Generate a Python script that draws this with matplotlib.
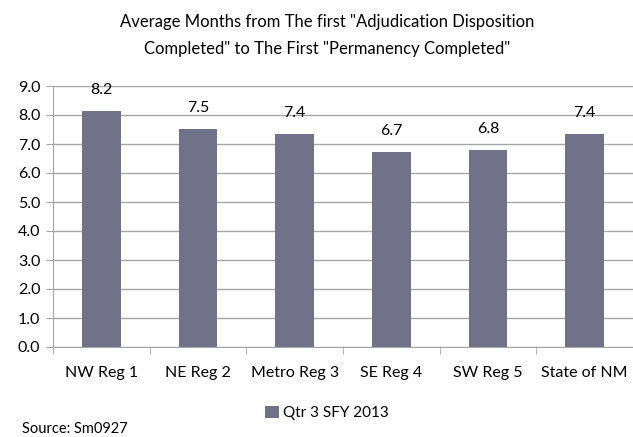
import numpy as np
import matplotlib.pyplot as plt

plt.rcParams['font.family'] = ['Lato', 'DejaVu Sans']

regions = ["NW Reg 1", "NE Reg 2", "Metro Reg 3", "SE Reg 4", "SW Reg 5", "State of NM"]
avg_months = [8.15, 7.53, 7.35, 6.72, 6.81, 7.36]
bar_labels = ["8.2", "7.5", "7.4", "6.7", "6.8", "7.4"]
series_name = "Qtr 3 SFY 2013"
y_ticks = [0, 1, 2, 3, 4, 5, 6, 7, 8, 9]

bar_color = '#717189'
grid_color = '#a6a6a6'

fig = plt.figure(figsize=(6.33, 4.37), dpi=100)
ax = fig.add_axes([53 / 633, 1 - 347 / 437, 580 / 633, 261 / 437])

x = np.arange(len(regions))
bars = ax.bar(x, avg_months, width=0.40, color=bar_color, zorder=3, label=series_name)
for xi, v, lab in zip(x, avg_months, bar_labels):
    ax.annotate(lab, (xi, v), xytext=(0, 10), textcoords='offset points',
                ha='center', va='bottom', fontsize=11.5)

ax.set_xlim(-0.5, len(regions) - 0.5)
ax.set_ylim(0, 9)
ax.set_yticks(y_ticks)
ax.set_yticklabels(['{:.1f}'.format(t) for t in y_ticks], fontsize=11.5)
ax.set_xticks(x)
ax.set_xticklabels(regions, fontsize=11.5)
ax.set_xticks(np.arange(len(regions) + 1) - 0.5, minor=True)
ax.tick_params(axis='x', which='major', length=0, pad=14)
ax.tick_params(axis='x', which='minor', length=5, color=grid_color)
ax.tick_params(axis='y', length=5, color=grid_color, pad=4)
ax.grid(axis='y', color=grid_color, linewidth=1, zorder=0)
for s in ['top', 'right']:
    ax.spines[s].set_visible(False)
for s in ['left', 'bottom']:
    ax.spines[s].set_color(grid_color)

fig.text(327 / 633, 1 - 22 / 437, 'Average Months from The first "Adjudication Disposition',
         ha='center', va='center', fontsize=12)
fig.text(327 / 633, 1 - 49 / 437, 'Completed" to The First "Permanency Completed"',
         ha='center', va='center', fontsize=12)

fig.legend(handles=[bars], labels=[series_name], loc='center', bbox_to_anchor=(327 / 633, 1 - 413 / 437),
           frameon=False, fontsize=11, handlelength=0.9, handleheight=0.9, handletextpad=0.3)
fig.text(22 / 633, 1 - 429 / 437, 'Source: Sm0927', ha='left', va='center', fontsize=10.5)

fig.savefig('out.png', dpi=100)
